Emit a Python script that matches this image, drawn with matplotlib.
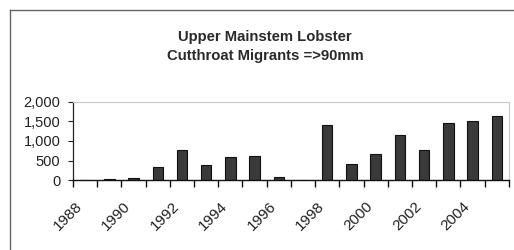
import matplotlib
import matplotlib.pyplot as plt
from matplotlib.lines import Line2D
import numpy as np

matplotlib.rc('font', family='Liberation Sans')

years = list(range(1988, 2006))
migrants = [0, 25, 55, 325, 760, 385, 580, 620, 85, 0,
            1410, 410, 660, 1145, 770, 1470, 1510, 1650]
tick_years = years[::2]

fig = plt.figure(figsize=(5.14, 2.5), dpi=100)
ax = fig.add_axes([0.142, 0.28, 0.848, 0.312])

x = np.arange(len(years))
ax.bar(x, migrants, width=0.43, color='#3a3a3a', edgecolor='#111111', linewidth=0.8)

ax.set_xlim(-0.5, len(years) - 0.5)
ax.set_ylim(0, 2000)
ax.set_yticks([0, 500, 1000, 1500, 2000])
ax.set_yticklabels(['0', '500', '1,000', '1,500', '2,000'], fontsize=10.5, color='#222222')
ax.tick_params(axis='y', length=3.6, width=0.8, color='#222222', pad=5.5)

# category boundary ticks, labels every other year
ax.set_xticks(np.arange(-0.5, len(years)), minor=True)
ax.set_xticks(x[::2])
ax.set_xticklabels([str(y) for y in tick_years], rotation=45, ha='right', va='top',
                   fontsize=11, color='#222222')
ax.tick_params(axis='x', which='major', length=0, pad=14)
ax.tick_params(axis='x', which='minor', length=5, width=1, color='#111111', direction='out')

for s in ['top', 'right']:
    ax.spines[s].set_color('#c8c8c8')
    ax.spines[s].set_linewidth(0.8)
ax.spines['left'].set_color('#222222')
ax.spines['left'].set_linewidth(0.9)
ax.spines['bottom'].set_color('#111111')
ax.spines['bottom'].set_linewidth(1)

fig.text(265 / 514, 1 - 36.5 / 250, 'Upper Mainstem Lobster', ha='center', va='center',
         fontsize=10.7, fontweight='bold', color='#2a2a2a')
fig.text(265 / 514, 1 - 56 / 250, 'Cutthroat Migrants =>90mm', ha='center', va='center',
         fontsize=10.7, fontweight='bold', color='#2a2a2a')

# outer chart border
fig.add_artist(Line2D([10 / 514, 1], [1 - 10 / 250, 1 - 10 / 250], color='#666666', linewidth=1))
fig.add_artist(Line2D([10 / 514, 10 / 514], [0, 1 - 10 / 250], color='#666666', linewidth=1))

fig.savefig('out.png', dpi=100)
